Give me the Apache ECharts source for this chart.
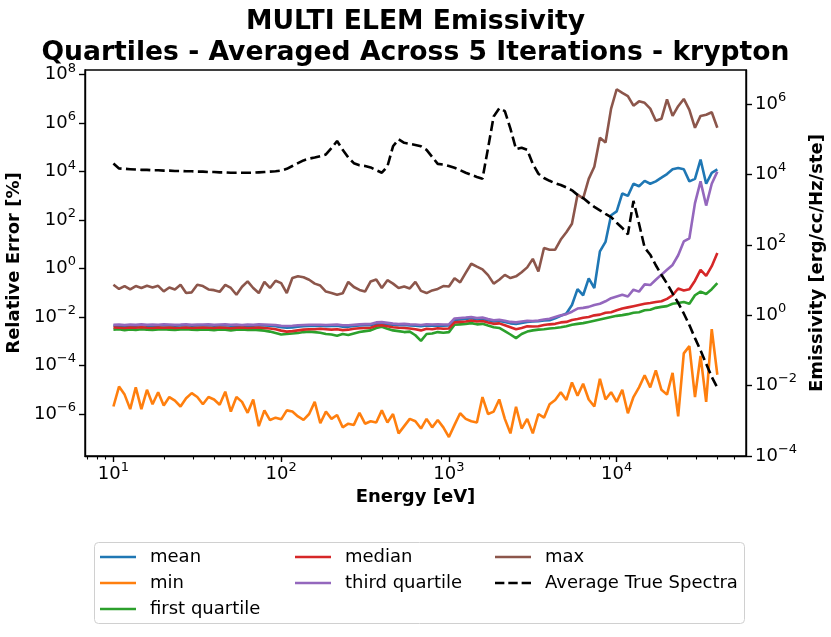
<!DOCTYPE html>
<html>
<head>
<meta charset="utf-8">
<script src="https://cdn.jsdelivr.net/npm/echarts@6/dist/echarts.min.js"></script>
<style>
html, body { margin: 0; padding: 0; background: #fff; }
#main { width: 831px; height: 637px; }
</style>
</head>
<body>
<div id="main"></div>
<script>
var font = 'DejaVu Sans';

// energy grid [eV]
var energy = [
  10, 10.8, 11.66, 12.59, 13.59, 14.68, 15.85, 17.11, 18.48, 19.95,
  21.54, 23.26, 25.12, 27.12, 29.29, 31.62, 34.15, 36.87, 39.81, 42.99,
  46.42, 50.12, 54.12, 58.43, 63.1, 68.13, 73.56, 79.43, 85.77, 92.61,
  100, 108, 116.6, 125.9, 135.9, 146.8, 158.5, 171.1, 184.8, 199.5,
  215.4, 232.6, 251.2, 271.2, 292.9, 316.2, 341.5, 368.7, 398.1, 429.9,
  464.2, 501.2, 541.2, 584.3, 631, 681.3, 735.6, 794.3, 857.7, 926.1,
  1000, 1080, 1166, 1259, 1359, 1468, 1585, 1711, 1848, 1995,
  2154, 2326, 2512, 2712, 2929, 3162, 3415, 3687, 3981, 4299,
  4642, 5012, 5412, 5843, 6310, 6813, 7356, 7943, 8577, 9261,
  10000, 10800, 11660, 12590, 13590, 14680, 15850, 17110, 18480, 19950,
  21540, 23260, 25120, 27120, 29290, 31620, 34150, 36870, 39810
];

// relative error [%], stored as log10 values
var meanLog = [
  -2.36, -2.35, -2.37, -2.35, -2.36, -2.34, -2.36, -2.35, -2.36, -2.34,
  -2.35, -2.36, -2.35, -2.34, -2.36, -2.35, -2.35, -2.34, -2.36, -2.35,
  -2.34, -2.36, -2.35, -2.37, -2.35, -2.36, -2.34, -2.35, -2.36, -2.38,
  -2.42, -2.44, -2.43, -2.40, -2.38, -2.37, -2.37, -2.36, -2.38, -2.37,
  -2.36, -2.40, -2.40, -2.37, -2.35, -2.34, -2.34, -2.28, -2.27, -2.30,
  -2.32, -2.34, -2.33, -2.35, -2.36, -2.38, -2.35, -2.36, -2.35, -2.36,
  -2.35, -2.12, -2.10, -2.08, -2.05, -2.10, -2.08, -2.13, -2.18, -2.16,
  -2.20, -2.26, -2.28, -2.24, -2.20, -2.18, -2.17, -2.14, -2.13, -2.05,
  -1.95, -1.85, -1.5, -0.85, -1.1, -0.4, -0.8, 0.71, 1.1, 2.2,
  2.36, 3.1, 3.0, 3.5, 3.4, 3.62, 3.5, 3.6, 3.75, 3.9,
  4.1, 4.15, 4.1, 3.6, 3.7, 4.5, 3.5, 3.95, 4.09
];
var minLog = [
  -5.69, -4.87, -5.2, -5.8, -4.9, -5.8, -5.0, -5.6, -5.1, -5.65,
  -5.3, -5.45, -5.69, -5.35, -5.14, -5.3, -5.6, -5.3, -5.4, -5.62,
  -5.08, -5.9, -5.3, -5.5, -5.95, -5.4, -6.5, -5.85, -6.25, -6.15,
  -6.22, -5.85, -5.9, -6.1, -6.24, -6.0, -5.5, -6.38, -5.9, -6.2,
  -6.04, -6.55, -6.4, -6.45, -5.95, -6.4, -6.3, -6.35, -5.85, -6.35,
  -6.0, -6.8, -6.5, -6.2, -6.3, -6.6, -6.2, -6.55, -6.25, -6.55,
  -6.95, -6.45, -5.97, -6.2, -6.3, -6.35, -5.3, -6.0, -5.9, -5.4,
  -6.2, -6.8, -5.7, -6.6, -6.2, -6.8, -6.0, -6.15, -5.6, -5.42,
  -5.1, -5.42, -4.7, -5.25, -4.75, -5.4, -5.69, -4.55, -5.4, -5.1,
  -5.5, -5.0, -5.97, -5.3, -4.9, -4.4, -4.9, -4.2, -5.0, -5.2,
  -4.3, -6.1, -3.5, -3.2, -5.3, -3.6, -5.5, -2.5, -4.38
];
var firstQLog = [
  -2.52, -2.50, -2.54, -2.51, -2.53, -2.50, -2.52, -2.53, -2.51, -2.50,
  -2.52, -2.53, -2.51, -2.50, -2.52, -2.53, -2.51, -2.52, -2.54, -2.51,
  -2.52, -2.55, -2.52, -2.51, -2.53, -2.52, -2.54, -2.56, -2.60, -2.66,
  -2.72, -2.70, -2.68, -2.66, -2.62, -2.60, -2.62, -2.65, -2.70, -2.72,
  -2.77, -2.70, -2.74, -2.68, -2.62, -2.58, -2.55, -2.45, -2.40, -2.48,
  -2.55, -2.58, -2.62, -2.60, -2.75, -2.98, -2.70, -2.68, -2.62, -2.65,
  -2.62, -2.32, -2.30, -2.28, -2.25, -2.30, -2.28, -2.35, -2.42, -2.45,
  -2.58, -2.72, -2.87, -2.70, -2.60, -2.55, -2.52, -2.50, -2.47, -2.45,
  -2.42, -2.38, -2.32, -2.28, -2.25, -2.2, -2.15, -2.1, -2.05, -2.0,
  -1.95, -1.92, -1.88, -1.82, -1.8, -1.72, -1.7, -1.62, -1.58, -1.55,
  -1.45, -1.42, -1.38, -1.45, -1.1, -0.95, -1.05, -0.85, -0.6
];
var medianLog = [
  -2.43, -2.44, -2.45, -2.43, -2.44, -2.42, -2.44, -2.45, -2.43, -2.44,
  -2.43, -2.45, -2.44, -2.43, -2.45, -2.44, -2.43, -2.44, -2.45, -2.43,
  -2.44, -2.46, -2.44, -2.43, -2.45, -2.44, -2.43, -2.45, -2.47, -2.50,
  -2.56, -2.60, -2.58, -2.55, -2.52, -2.50, -2.50, -2.48, -2.50, -2.52,
  -2.50, -2.54, -2.52, -2.48, -2.46, -2.45, -2.44, -2.36, -2.34, -2.38,
  -2.42, -2.44, -2.45, -2.47, -2.50, -2.55, -2.48, -2.50, -2.46, -2.48,
  -2.47, -2.22, -2.20, -2.18, -2.14, -2.18, -2.16, -2.22, -2.28, -2.26,
  -2.34, -2.42, -2.50, -2.45, -2.38, -2.39, -2.38, -2.33, -2.30, -2.28,
  -2.22, -2.20, -2.12, -2.08, -2.03, -2.0, -1.93, -1.9, -1.82, -1.8,
  -1.72, -1.65, -1.6, -1.55, -1.5, -1.45, -1.42, -1.38, -1.35, -1.25,
  -1.1, -0.82, -0.9, -0.85, -0.5, -0.05, -0.3, 0.1, 0.64
];
var thirdQLog = [
  -2.32, -2.31, -2.33, -2.31, -2.32, -2.30, -2.32, -2.31, -2.32, -2.30,
  -2.31, -2.32, -2.31, -2.30, -2.32, -2.31, -2.31, -2.30, -2.32, -2.31,
  -2.30, -2.32, -2.31, -2.33, -2.31, -2.32, -2.30, -2.31, -2.32, -2.33,
  -2.36, -2.37, -2.36, -2.34, -2.33, -2.32, -2.32, -2.32, -2.33, -2.32,
  -2.31, -2.34, -2.34, -2.32, -2.30, -2.29, -2.29, -2.22, -2.21, -2.24,
  -2.27, -2.29, -2.28, -2.30, -2.31, -2.33, -2.30, -2.31, -2.30, -2.31,
  -2.30, -2.06, -2.04, -2.02, -2.00, -2.04, -2.02, -2.08, -2.13, -2.11,
  -2.15, -2.20, -2.22, -2.18, -2.15, -2.16, -2.14, -2.10, -2.07, -2.0,
  -1.93, -1.88, -1.78, -1.65, -1.62, -1.58, -1.5, -1.45, -1.35, -1.22,
  -1.15, -1.08, -1.15, -0.87, -0.95, -0.65, -0.68, -0.46, -0.25, -0.05,
  0.15, 0.55, 1.12, 1.25, 2.7, 3.6, 2.6, 3.5, 4.0
];
var maxLog = [
  -0.67, -0.84, -0.72, -0.86, -0.72, -0.80, -0.71, -0.78, -0.71, -0.94,
  -0.78, -0.86, -0.67, -1.01, -0.98, -0.67, -0.72, -0.86, -0.89, -0.96,
  -0.67, -0.80, -1.08, -0.75, -0.53, -0.80, -1.01, -0.55, -0.80, -0.50,
  -0.60, -1.01, -0.39, -0.32, -0.36, -0.46, -0.62, -0.70, -0.95, -1.01,
  -1.08, -1.02, -0.55, -0.76, -0.88, -0.95, -0.53, -0.45, -0.80, -0.48,
  -0.62, -0.80, -0.74, -0.82, -0.55, -0.92, -1.01, -0.90, -0.84, -0.72,
  -0.74, -0.40, -0.57, -0.18, 0.20, 0.08, -0.03, -0.27, -0.62, -0.46,
  -0.26, -0.39, -0.32, -0.15, 0.05, 0.40, -0.12, 0.85, 0.78, 0.78,
  1.2, 1.5, 1.85, 3.05, 2.9, 3.7, 4.2, 5.4, 5.2, 6.6,
  7.4, 7.25, 7.12, 6.72, 6.9, 6.84, 6.6, 6.1, 6.18, 6.98,
  6.3, 6.7, 7.0, 6.55, 5.81, 6.3, 6.35, 6.45, 5.81
];
// emissivity [erg/cc/Hz/ste], log10 values
var spectraLog = [
  4.31, 4.17, 4.16, 4.15, 4.14, 4.13, 4.13, 4.12, 4.12, 4.11,
  4.11, 4.10, 4.10, 4.09, 4.09, 4.08, 4.08, 4.07, 4.07, 4.06,
  4.06, 4.05, 4.05, 4.05, 4.05, 4.05, 4.06, 4.07, 4.08, 4.09,
  4.11, 4.16, 4.24, 4.32, 4.40, 4.45, 4.48, 4.52, 4.57, 4.75,
  4.95, 4.70, 4.48, 4.32, 4.26, 4.24, 4.20, 4.12, 4.05, 4.23,
  4.80, 5.00, 4.90, 4.87, 4.84, 4.80, 4.70, 4.50, 4.30, 4.28,
  4.24, 4.19, 4.12, 4.05, 3.99, 3.93, 3.88, 4.75, 5.65, 5.88,
  5.80, 5.30, 4.72, 4.76, 4.70, 4.30, 4.02, 3.90, 3.82, 3.75,
  3.70, 3.63, 3.55, 3.42, 3.33, 3.20, 3.08, 2.98, 2.88, 2.79,
  2.63, 2.48, 2.30, 3.25, 2.60, 1.92, 1.72, 1.42, 1.15, 0.90,
  0.62, 0.35, 0.05, -0.28, -0.65, -1.00, -1.38, -1.75, -2.06
];

var xTicks = [10, 100, 1000, 10000];
var xMinorTicks = [7, 8, 9, 20, 30, 40, 50, 60, 70, 80, 90,
  200, 300, 400, 500, 600, 700, 800, 900,
  2000, 3000, 4000, 5000, 6000, 7000, 8000, 9000,
  20000, 30000, 40000, 50000];
var leftTicks = [1e-6, 1e-4, 1e-2, 1, 1e2, 1e4, 1e6, 1e8];
var rightTicks = [1e-4, 1e-2, 1, 1e2, 1e4, 1e6];

function pairs(logs) {
  return logs.map(function (v, i) { return [energy[i], Math.pow(10, v)]; });
}

function powLabel(v) {
  var e = Math.round(Math.log10(v));
  return '{b|10}{e|' + (e < 0 ? '\u2212' + (-e) : e) + '}';
}
var rich = {
  b: { fontSize: 18, fontFamily: font, color: '#000', lineHeight: 26 },
  e: { fontSize: 13, fontFamily: font, color: '#000', lineHeight: 14, verticalAlign: 'top' }
};
var nameStyle = { fontSize: 18, fontWeight: 'bold', fontFamily: font, color: '#000' };
var axisLine = { show: true, lineStyle: { color: '#000', width: 1.4 } };
var tickStyle = { color: '#000', width: 1.4 };

var solidIcon = 'path://M0,0H36V2.6H0Z';
var dashIcon = 'path://M0,0H9.5V2.6H0Z M13.5,0H23V2.6H13.5Z M27,0H36.5V2.6H27Z';

var chart = echarts.init(document.getElementById('main'));

function line(name, logs, color, yIdx, dashed) {
  return {
    name: name,
    type: 'line',
    yAxisIndex: yIdx,
    data: pairs(logs),
    symbol: 'none',
    lineStyle: { color: color, width: 2.6, type: dashed ? [10, 4.4] : 'solid' },
    itemStyle: { color: color }
  };
}

var legendBase = {
  orient: 'vertical',
  top: 547,
  padding: 0,
  itemWidth: 36,
  itemHeight: 14,
  itemGap: 6,
  symbolKeepAspect: true,
  textStyle: { fontSize: 18, fontFamily: font, color: '#000', lineHeight: 20, padding: [0, 0, 0, 9] }
};

chart.setOption({
  animation: false,
  title: [
    { text: 'MULTI ELEM Emissivity', left: 'center', top: 9, padding: 0,
      textStyle: { fontSize: 26.6, fontWeight: 'bold', fontFamily: font, color: '#000' } },
    { text: 'Quartiles - Averaged Across 5 Iterations - krypton', left: 'center', top: 40, padding: 0,
      textStyle: { fontSize: 26.6, fontWeight: 'bold', fontFamily: font, color: '#000' } }
  ],
  grid: {
    left: 85, right: 85, top: 70, bottom: 181,
    outerBoundsMode: 'none', containLabel: false,
    show: true, borderColor: '#000', borderWidth: 1.4
  },
  legend: [
    Object.assign({ left: 100, data: [
      { name: 'mean', icon: solidIcon },
      { name: 'min', icon: solidIcon },
      { name: 'first quartile', icon: solidIcon }
    ] }, legendBase),
    Object.assign({ left: 295, data: [
      { name: 'median', icon: solidIcon },
      { name: 'third quartile', icon: solidIcon }
    ] }, legendBase),
    Object.assign({ left: 495, data: [
      { name: 'max', icon: solidIcon },
      { name: 'Average True Spectra', icon: dashIcon }
    ] }, legendBase)
  ],
  graphic: [{
    type: 'rect', left: 94, top: 542, z: -1,
    shape: { width: 650, height: 81, r: 4 },
    style: { fill: '#fff', stroke: '#d0d0d0', lineWidth: 1 }
  }],
  xAxis: [
    {
      type: 'log', min: 6.77, max: 59000, position: 'bottom',
      axisLine: axisLine,
      axisTick: { customValues: xTicks, length: 6, lineStyle: tickStyle },
      axisLabel: { customValues: xTicks, formatter: powLabel, rich: rich, margin: 5 },
      splitLine: { show: false },
      name: 'Energy [eV]', nameLocation: 'middle', nameGap: 32, nameTextStyle: nameStyle
    },
    {
      type: 'log', min: 6.77, max: 59000, position: 'bottom',
      axisLine: { show: false },
      axisTick: { customValues: xMinorTicks, length: 3.5, lineStyle: { color: '#000', width: 1.1 } },
      axisLabel: { show: false },
      splitLine: { show: false }
    }
  ],
  yAxis: [
    {
      type: 'log', min: 1.85e-8, max: 1.563e8, position: 'left',
      axisLine: axisLine,
      axisTick: { customValues: leftTicks, length: 6, lineStyle: tickStyle },
      axisLabel: { customValues: leftTicks, formatter: powLabel, rich: rich, margin: 9 },
      splitLine: { show: false },
      name: 'Relative Error [%]', nameLocation: 'middle', nameGap: 57, nameTextStyle: nameStyle
    },
    {
      type: 'log', min: 1e-4, max: 9.3e6, position: 'right',
      axisLine: axisLine,
      axisTick: { customValues: rightTicks, length: 6, lineStyle: tickStyle },
      axisLabel: { customValues: rightTicks, formatter: powLabel, rich: rich, margin: 9 },
      splitLine: { show: false },
      name: 'Emissivity [erg/cc/Hz/ste]', nameLocation: 'middle', nameGap: 57, nameTextStyle: nameStyle
    }
  ],
  series: [
    line('mean', meanLog, '#1f77b4', 0),
    line('min', minLog, '#ff7f0e', 0),
    line('first quartile', firstQLog, '#2ca02c', 0),
    line('median', medianLog, '#d62728', 0),
    line('third quartile', thirdQLog, '#9467bd', 0),
    line('max', maxLog, '#8c564b', 0),
    line('Average True Spectra', spectraLog, '#000', 1, true)
  ]
});
</script>
</body>
</html>
